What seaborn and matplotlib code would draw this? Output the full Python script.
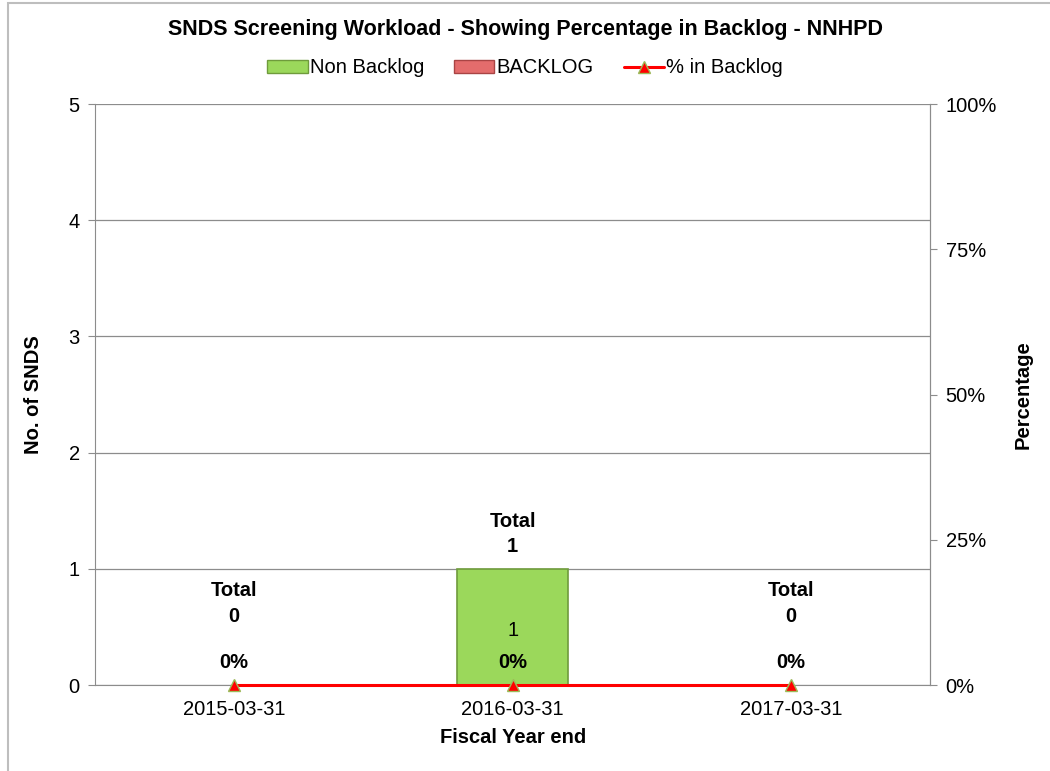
import matplotlib
matplotlib.use('Agg')
import matplotlib.pyplot as plt
import seaborn as sns
import pandas as pd
from matplotlib.patches import Patch, Rectangle
from matplotlib.lines import Line2D

years = ['2015-03-31', '2016-03-31', '2017-03-31']
non_backlog = [0, 1, 0]
backlog = [0, 0, 0]
pct_backlog = [0, 0, 0]
totals = [a + b for a, b in zip(non_backlog, backlog)]

sns.set_style('white')
plt.rcParams['font.family'] = ['Liberation Sans', 'DejaVu Sans']
plt.rcParams['text.color'] = 'black'
plt.rcParams['axes.labelcolor'] = 'black'
plt.rcParams['xtick.color'] = 'black'
plt.rcParams['ytick.color'] = 'black'

df = pd.DataFrame({'year': years, 'non': non_backlog, 'back': backlog})

fig = plt.figure(figsize=(10.5, 7.71), dpi=100)
ax = fig.add_axes([0.0905, 0.1115, 0.7955, 0.7535])

green = '#9BD85B'
red = '#E46C6C'
sns.barplot(data=df, x='year', y='non', color=green, width=0.4,
            edgecolor='#6F9B3C', linewidth=1.2, ax=ax, saturation=1, zorder=3)
ax.bar(range(len(years)), backlog, bottom=non_backlog, width=0.4,
       color=red, edgecolor='#A94444', zorder=3)
# empty bars should not leave an outline on the axis
for p in ax.patches:
    if p.get_height() == 0:
        p.set_linewidth(0)

ax.set_xlim(-0.5, 2.5)
ax.set_ylim(0, 5)
ax.set_yticks(range(6))
ax.yaxis.grid(True, color='#8C8C8C', linewidth=0.9, zorder=0)
ax.set_axisbelow(True)
ax.spines['top'].set_visible(False)
for s in ['left', 'bottom', 'right']:
    ax.spines[s].set_color('#8C8C8C')
ax.tick_params(axis='both', direction='out', length=5, color='#8C8C8C',
               labelsize=14.5, pad=6, labelcolor='black')
ax.set_xlabel('Fiscal Year end', fontsize=14.5, fontweight='bold', labelpad=6)
ax.set_ylabel('No. of SNDS', fontsize=14.5, fontweight='bold', labelpad=18)

ax2 = ax.twinx()
ax2.set_ylim(0, 1)
ax2.set_yticks([0, 0.25, 0.5, 0.75, 1.0])
ax2.set_yticklabels(['0%', '25%', '50%', '75%', '100%'])
ax2.tick_params(axis='y', direction='out', length=5, color='#8C8C8C',
                labelsize=14.5, pad=6, labelcolor='black')
for s in ['top', 'left', 'bottom']:
    ax2.spines[s].set_visible(False)
ax2.spines['right'].set_color('#8C8C8C')
ax2.set_ylabel('Percentage', fontsize=14.5, fontweight='bold', labelpad=12)
ax2.plot(range(len(years)), pct_backlog, color='#FF0000', linewidth=2.2,
         marker='^', markersize=8, markerfacecolor='#FF0000',
         markeredgecolor='#9BBB59', clip_on=False, zorder=5)

for i, (t, n, p) in enumerate(zip(totals, non_backlog, pct_backlog)):
    if t > 0:
        ax.text(i, t + 0.30, f'Total\n{t}', ha='center', va='center',
                fontsize=14.5, fontweight='bold', linespacing=1.45)
        ax.text(i, n / 2 - 0.03, f'{n}', ha='center', va='center', fontsize=14.5)
    else:
        ax.text(i, 0.70, f'Total\n{t}', ha='center', va='center',
                fontsize=14.5, fontweight='bold', linespacing=1.45)
    ax.text(i, 0.19, f'{p:.0%}', ha='center', va='center',
            fontsize=14.5, fontweight='bold')

fig.suptitle('SNDS Screening Workload - Showing Percentage in Backlog - NNHPD',
             x=0.5, y=0.975, fontsize=15.5, fontweight='bold')

handles = [Patch(facecolor=green, edgecolor='#6F9B3C'),
           Patch(facecolor=red, edgecolor='#A94444'),
           Line2D([], [], color='#FF0000', linewidth=2.2, marker='^',
                  markersize=8, markerfacecolor='#FF0000', markeredgecolor='#9BBB59')]
fig.legend(handles, ['Non Backlog', 'BACKLOG', '% in Backlog'], loc='center',
           bbox_to_anchor=(0.5, 0.912), ncol=3, frameon=False, fontsize=14.5,
           handlelength=2.0, handleheight=0.6, handletextpad=0.1, columnspacing=1.5)

fig.patches.append(Rectangle((0.0075, -0.05), 1.1, 1.046, transform=fig.transFigure,
                             fill=False, edgecolor='#BEBEBE', linewidth=1.5))

fig.savefig('out.png', dpi=100)
